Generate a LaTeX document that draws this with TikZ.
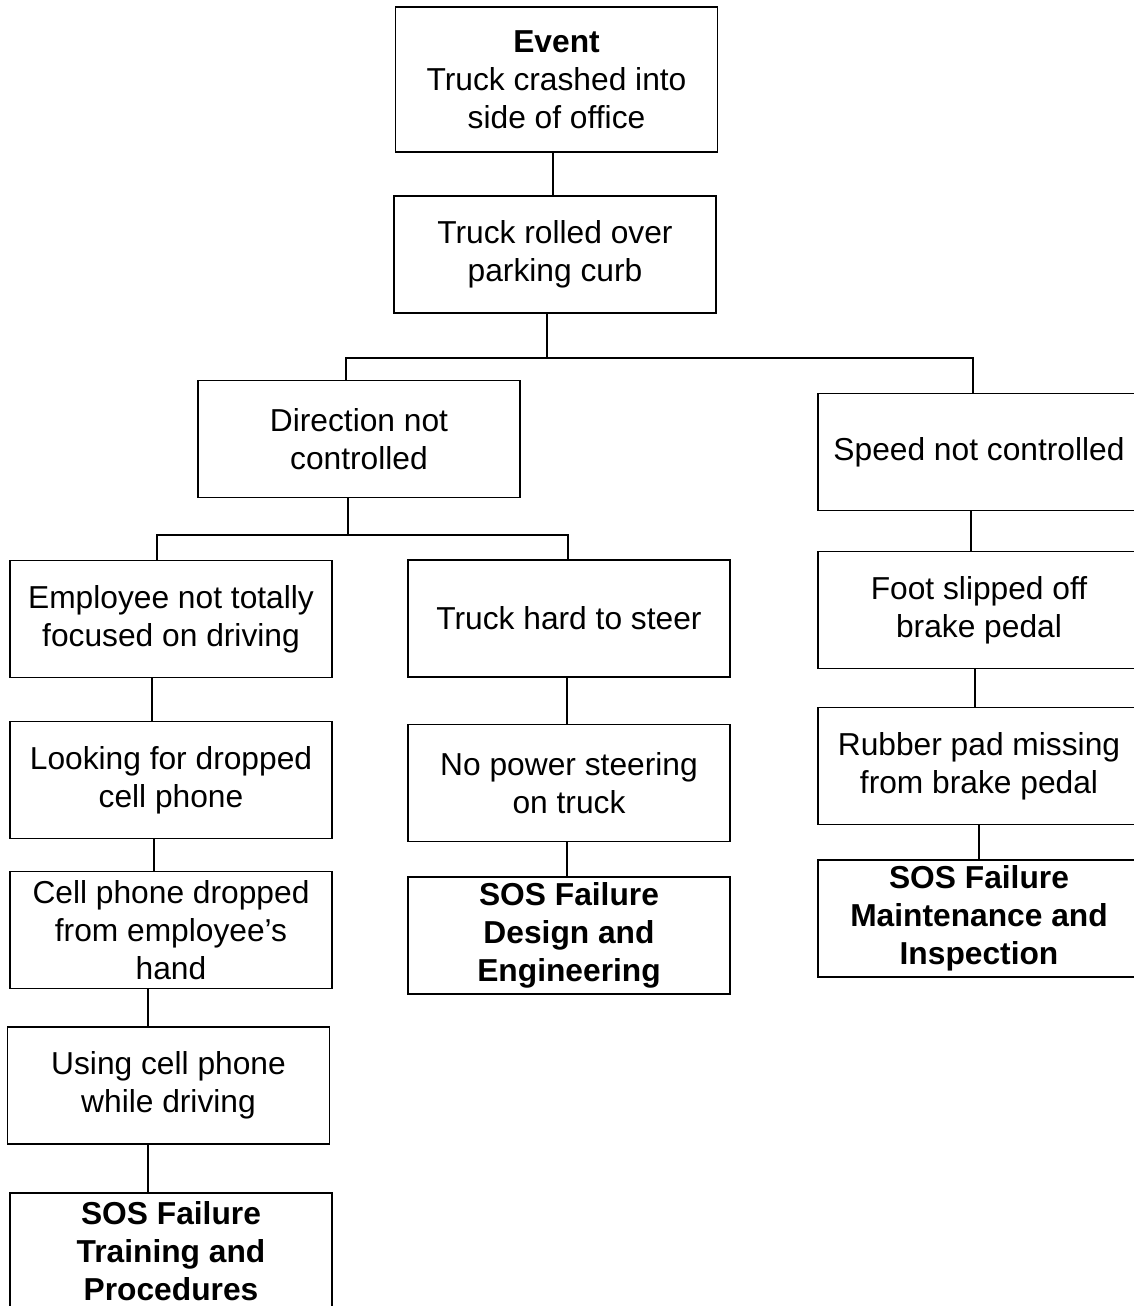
\documentclass[tikz,border=0pt]{standalone}
\usepackage{fontspec}
\setmainfont{Liberation Sans}
\usetikzlibrary{calc}

\tikzset{
  box/.style={draw, line width=1.15pt, minimum width=241.5pt, minimum height=87.75pt,
    align=center, inner sep=0pt, font=\fontsize{23.8}{28.5}\selectfont},
  link/.style={line width=1.15pt}
}

\begin{document}
\begin{tikzpicture}[x=0.75pt, y=-0.75pt]

            \useasboundingbox (0,0) rectangle (1134,1306);
            \clip (0,0) rectangle (1134,1306);

            \node[box, minimum height=108.75pt] (event) at (556.5,79.5) {\textbf{Event}\\Truck crashed into\\side of office};
            \node[box] (rolled) at (555,254.5) {Truck rolled over\\parking curb};

            \node[box] (direction) at (359,439) {Direction not\\controlled};
            \node[box] (speed) at (979,452) {Speed not controlled};

            \node[box] (employee) at (171,619) {Employee not totally\\focused on driving};
            \node[box] (looking) at (171,780) {Looking for dropped\\cell phone};
            \node[box] (dropped) at (171,930) {Cell phone dropped\\from employee’s\\hand};
            \node[box] (using) at (168.5,1085.5) {Using cell phone\\while driving};
            \node[box] (training) at (171,1251.5) {\textbf{SOS Failure}\\\textbf{Training and}\\\textbf{Procedures}};

            \node[box] (hard) at (569,618.5) {Truck hard to steer};
            \node[box] (nopower) at (569,783) {No power steering\\on truck};
            \node[box] (design) at (569,935.5) {\textbf{SOS Failure}\\\textbf{Design and}\\\textbf{Engineering}};

            \node[box] (foot) at (979,610) {Foot slipped off\\brake pedal};
            \node[box] (rubber) at (979,766) {Rubber pad missing\\from brake pedal};
            \node[box] (maint) at (979,918.5) {\textbf{SOS Failure}\\\textbf{Maintenance and}\\\textbf{Inspection}};

            % branch points
            \coordinate (j1) at (547,358);
            \coordinate (j2) at (348,535);

            \draw[link] ($(event.south)+(-3.5,0)$) -- ($(rolled.north)+(-2,0)$);
            \draw[link] (rolled.south -| j1) -- (j1);
            \draw[link] ($(direction.north)+(-13,0)$) |- (j1) -| ($(speed.north)+(-6,0)$);

            \draw[link] ($(direction.south)+(-11,0)$) -- (j2);
            \draw[link] ($(employee.north)+(-14,0)$) |- (j2) -| ($(hard.north)+(-1,0)$);

            \draw[link] ($(employee.south)+(-19,0)$) -- ($(looking.north)+(-19,0)$);
            \draw[link] ($(looking.south)+(-17,0)$) -- ($(dropped.north)+(-17,0)$);
            \draw[link] ($(dropped.south)+(-23,0)$) -- ($(using.north)+(-20.5,0)$);
            \draw[link] ($(using.south)+(-20.5,0)$) -- ($(training.north)+(-23,0)$);

            \draw[link] ($(hard.south)+(-2,0)$) -- ($(nopower.north)+(-2,0)$);
            \draw[link] ($(nopower.south)+(-2,0)$) -- ($(design.north)+(-2,0)$);

            \draw[link] ($(speed.south)+(-8,0)$) -- ($(foot.north)+(-8,0)$);
            \draw[link] ($(foot.south)+(-4,0)$) -- ($(rubber.north)+(-4,0)$);
            \draw[link] (rubber.south) -- (maint.north);
        \end{tikzpicture}
\end{document}
